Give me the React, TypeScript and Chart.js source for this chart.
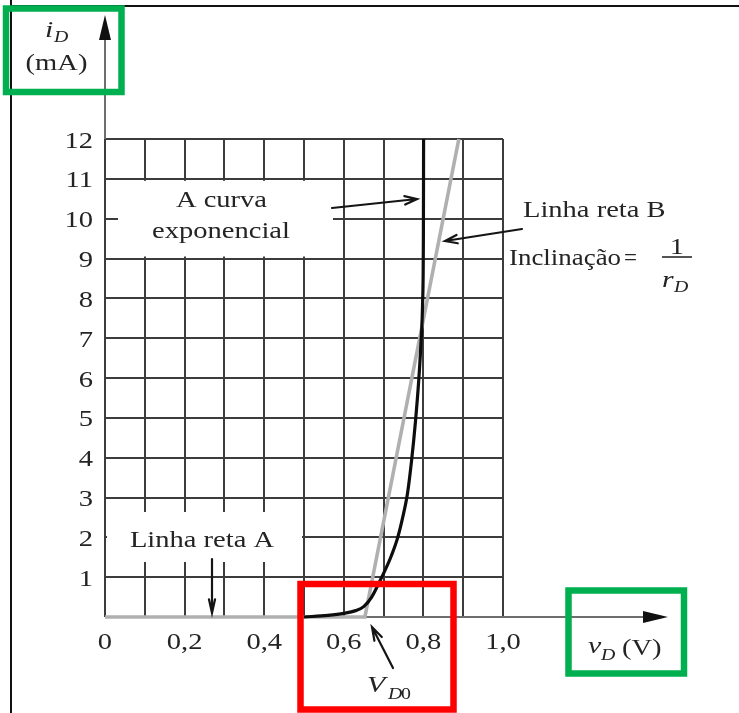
import React, { useEffect, useRef } from "react";
import { Chart, registerables } from "chart.js";

Chart.register(...registerables);

// Exponential diode curve i_D(v_D)
const curveV = [0.5, 0.56, 0.6, 0.63, 0.65, 0.67, 0.69, 0.705, 0.72, 0.735, 0.748, 0.76, 0.77, 0.78, 0.788, 0.794, 0.798, 0.8, 0.8005];
const curveI = [0, 0.04, 0.09, 0.16, 0.26, 0.5, 0.89, 1.2, 1.55, 1.98, 2.5, 3.1, 3.9, 4.9, 5.9, 6.9, 7.9, 9.6, 12];

// Piecewise-linear model: straight line A along the axis, then straight line B
const lineBV = [0, 0.653, 0.889];
const lineBI = [0, 0, 12];

// Axis ranges and labels
const xMin = 0;
const xMax = 1.0;
const xGridStep = 0.1;
const yMin = 0;
const yMax = 12;
const yGridStep = 1;
const xTickValues = [0, 0.2, 0.4, 0.6, 0.8, 1.0];
const xTickLabels = ["0", "0,2", "0,4", "0,6", "0,8", "1,0"];
const yTickValues = [1, 2, 3, 4, 5, 6, 7, 8, 9, 10, 11, 12];
const yTickLabels = ["1", "2", "3", "4", "5", "6", "7", "8", "9", "10", "11", "12"];

const SERIF = '"Liberation Serif", "Times New Roman", serif';
const TEXT = "#242424";
const SX = 1.24;

function txt(
  ctx: CanvasRenderingContext2D,
  s: string,
  x: number,
  y: number,
  size: number,
  align: CanvasTextAlign = "left",
  italic = false,
  sx = SX
) {
  ctx.save();
  ctx.font = `${italic ? "italic " : ""}${size}px ${SERIF}`;
  ctx.fillStyle = TEXT;
  ctx.textAlign = align;
  ctx.textBaseline = "alphabetic";
  ctx.translate(x, y);
  ctx.scale(sx, 1);
  ctx.fillText(s, 0, 0);
  ctx.restore();
}

function arrow(
  ctx: CanvasRenderingContext2D,
  x1: number,
  y1: number,
  x2: number,
  y2: number,
  head = 13,
  spread = 0.33
) {
  const a = Math.atan2(y2 - y1, x2 - x1);
  ctx.save();
  ctx.strokeStyle = "#151515";
  ctx.lineWidth = 2.2;
  ctx.lineCap = "round";
  ctx.beginPath();
  ctx.moveTo(x1, y1);
  ctx.lineTo(x2, y2);
  ctx.moveTo(x2 - head * Math.cos(a - spread), y2 - head * Math.sin(a - spread));
  ctx.lineTo(x2, y2);
  ctx.lineTo(x2 - head * Math.cos(a + spread), y2 - head * Math.sin(a + spread));
  ctx.stroke();
  ctx.restore();
}

function filledHead(ctx: CanvasRenderingContext2D, tipX: number, tipY: number, dir: "up" | "right") {
  ctx.save();
  ctx.fillStyle = "#111";
  ctx.beginPath();
  if (dir === "up") {
    ctx.moveTo(tipX, tipY);
    ctx.lineTo(tipX - 6, tipY + 25);
    ctx.lineTo(tipX + 6, tipY + 25);
  } else {
    ctx.moveTo(tipX, tipY);
    ctx.lineTo(tipX - 25, tipY - 6);
    ctx.lineTo(tipX - 25, tipY + 6);
  }
  ctx.closePath();
  ctx.fill();
  ctx.restore();
}

const diagramPlugin = {
  id: "diagram",
  beforeDraw(chart: any) {
    const ctx: CanvasRenderingContext2D = chart.ctx;
    ctx.save();
    ctx.fillStyle = "#ffffff";
    ctx.fillRect(0, 0, chart.width, chart.height);
    // page frame
    ctx.strokeStyle = "#111";
    ctx.lineWidth = 2;
    ctx.beginPath();
    ctx.moveTo(11, 0);
    ctx.lineTo(11, chart.height);
    ctx.moveTo(11, 6);
    ctx.lineTo(chart.width, 6);
    ctx.stroke();
    ctx.restore();
  },
  beforeDatasetsDraw(chart: any) {
    const ctx: CanvasRenderingContext2D = chart.ctx;
    const xs = chart.scales.x;
    const ys = chart.scales.y;
    const x0 = xs.getPixelForValue(0);
    const y0 = ys.getPixelForValue(0);
    const yTop = ys.getPixelForValue(yMax);
    ctx.save();
    // label backgrounds interrupt the grid
    ctx.fillStyle = "#ffffff";
    ctx.fillRect(118, ys.getPixelForValue(11) + 2, 215, ys.getPixelForValue(9) - ys.getPixelForValue(11) - 4);
    ctx.fillRect(x0 + 2, 512, xs.getPixelForValue(0.5) - x0 - 4, 50);
    // axes
    ctx.strokeStyle = "#6e6e6e";
    ctx.lineWidth = 2;
    ctx.beginPath();
    ctx.moveTo(x0, y0);
    ctx.lineTo(650, y0);
    ctx.moveTo(x0, yTop);
    ctx.lineTo(x0, 38);
    ctx.stroke();
    ctx.restore();
    filledHead(ctx, 668, y0, "right");
    filledHead(ctx, x0, 15, "up");
  },
  afterDatasetsDraw(chart: any) {
    const ctx: CanvasRenderingContext2D = chart.ctx;
    const xs = chart.scales.x;
    const ys = chart.scales.y;

    // tick labels
    yTickValues.forEach((v, k) => {
      txt(ctx, yTickLabels[k], 93, ys.getPixelForValue(v) + 8.5, 23, "right");
    });
    xTickValues.forEach((v, k) => {
      txt(ctx, xTickLabels[k], xs.getPixelForValue(v), 649, 23, "center");
    });

    // axis titles
    txt(ctx, "i", 45, 37, 24, "left", true);
    txt(ctx, "D", 54, 42, 16, "left", true);
    txt(ctx, "(mA)", 56.5, 70, 23, "center");
    txt(ctx, "v", 588, 653, 24, "left", true);
    txt(ctx, "D", 601, 660, 16, "left", true);
    txt(ctx, "(V)", 622, 655, 23, "left");

    // annotations
    txt(ctx, "A curva", 221.5, 207, 23, "center");
    txt(ctx, "exponencial", 221, 238, 23, "center");
    arrow(ctx, 332, 208, 417, 199);

    txt(ctx, "Linha reta B", 523, 217, 23, "left");
    txt(ctx, "Inclinação", 509, 265, 23, "left", false, 1.17);
    txt(ctx, "=", 624, 265, 23, "left", false, 1.0);
    txt(ctx, "1", 677, 254, 23, "center");
    ctx.save();
    ctx.strokeStyle = "#2a2a2a";
    ctx.lineWidth = 1.6;
    ctx.beginPath();
    ctx.moveTo(662, 257);
    ctx.lineTo(692, 257);
    ctx.stroke();
    ctx.restore();
    txt(ctx, "r", 662, 287, 24, "left", true);
    txt(ctx, "D", 674, 292, 16, "left", true);
    arrow(ctx, 522, 229, 445, 241);

    txt(ctx, "Linha reta A", 202, 547, 23, "center");
    arrow(ctx, 212, 559, 212, 613, 14, 0.22);

    txt(ctx, "V", 367, 692, 24, "left", true);
    txt(ctx, "D", 388, 699, 16, "left", true);
    txt(ctx, "0", 401, 699, 16, "left");
    arrow(ctx, 393, 668, 372, 627, 14, 0.3);

    // highlight frames
    ctx.save();
    ctx.lineWidth = 6.5;
    ctx.strokeStyle = "#00b050";
    ctx.strokeRect(6, 8.5, 115.5, 83.5);
    ctx.strokeRect(568.5, 590.5, 115.5, 83);
    ctx.strokeStyle = "#ff0000";
    ctx.strokeRect(300.5, 584, 153, 125.5);
    ctx.restore();
  },
};

export default function App() {
  const canvasRef = useRef<HTMLCanvasElement | null>(null);

  useEffect(() => {
    const canvas = canvasRef.current;
    if (!canvas) return;
    const curveData = curveV.map((v, k) => ({ x: v, y: curveI[k] }));
    const lineBData = lineBV.map((v, k) => ({ x: v, y: lineBI[k] }));

    const zeroFit = (scale: any) => {
      if (scale.isHorizontal()) scale.height = 0;
      else scale.width = 0;
    };

    const chart = new Chart(canvas, {
      type: "line",
      data: {
        datasets: [
          {
            label: "A curva exponencial",
            data: curveData,
            borderColor: "#0d0d0d",
            borderWidth: 3.2,
            pointRadius: 0,
            cubicInterpolationMode: "monotone",
            clip: false as any,
          },
          {
            label: "Linha reta A / B",
            data: lineBData,
            borderColor: "#b0b0b0",
            borderWidth: 3.6,
            pointRadius: 0,
            tension: 0,
            clip: false as any,
          },
        ],
      },
      options: {
        responsive: false,
        maintainAspectRatio: false,
        animation: false,
        devicePixelRatio: 1,
        layout: { padding: { left: 105, right: 236, top: 139, bottom: 96 } },
        plugins: {
          legend: { display: false },
          tooltip: { enabled: false },
          title: { display: false },
        },
        scales: {
          x: {
            type: "linear",
            min: xMin,
            max: xMax,
            border: { display: false },
            ticks: { display: false, stepSize: xGridStep },
            grid: { color: "#3c3c3c", lineWidth: 2, drawTicks: false, tickLength: 0 },
            afterFit: zeroFit,
          },
          y: {
            type: "linear",
            min: yMin,
            max: yMax,
            border: { display: false },
            ticks: { display: false, stepSize: yGridStep },
            grid: { color: "#3c3c3c", lineWidth: 2, drawTicks: false, tickLength: 0 },
            afterFit: zeroFit,
          },
        },
      },
      plugins: [diagramPlugin],
    } as any);

    return () => chart.destroy();
  }, []);

  return (
    <div style={{ position: "absolute", left: 0, top: 0, width: 739, height: 713, background: "#fff" }}>
      <canvas ref={canvasRef} width={739} height={713} style={{ display: "block", width: 739, height: 713 }} />
    </div>
  );
}
